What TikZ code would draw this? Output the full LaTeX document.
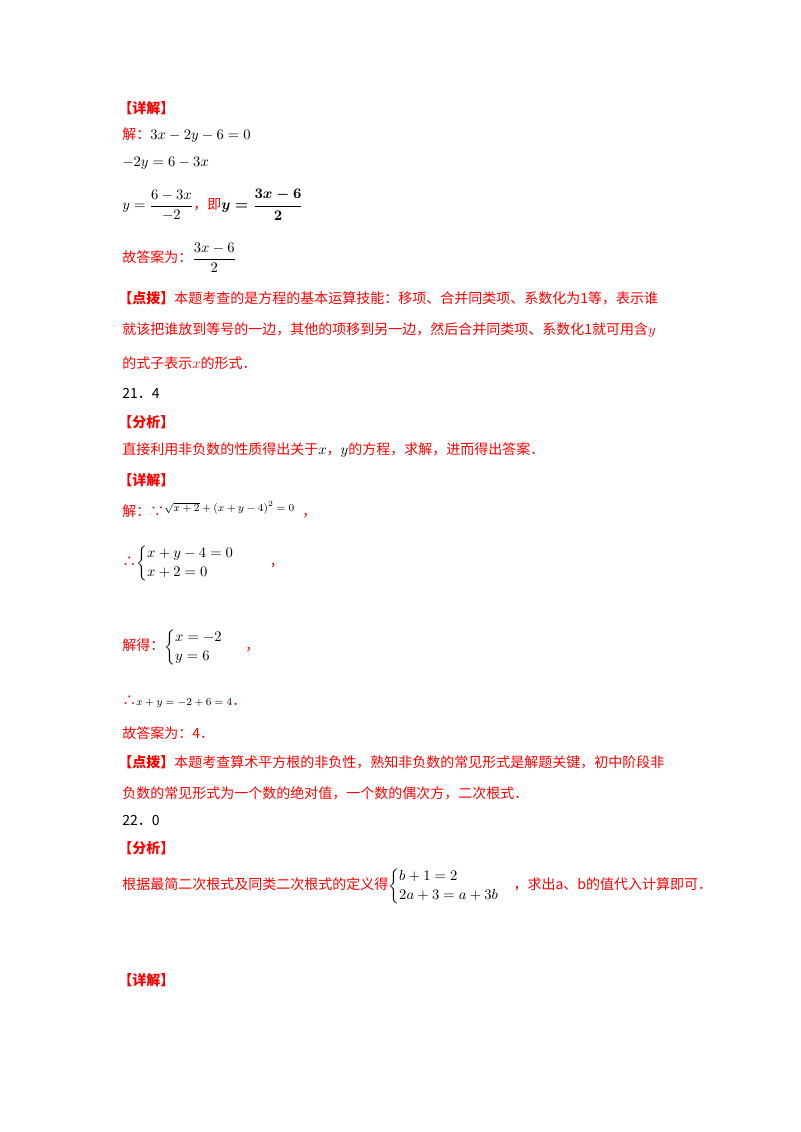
\documentclass[tikz,border=0pt]{standalone}
\usepackage{amsmath}
\usepackage{fontspec}
\setmainfont{Liberation Serif}
\newfontfamily\cjk{Noto Sans CJK SC}
\definecolor{rd}{RGB}{255,0,0}
\tikzset{t/.style={anchor=west,inner sep=0pt,font=\cjk\fontsize{10.5pt}{12pt}\selectfont,text=rd},
 k/.style={anchor=west,inner sep=0pt,font=\fontsize{10.5pt}{12pt}\selectfont,text=black}}
\newcommand{\bk}[1]{\textcolor{black}{#1}}
\begin{document}
\begin{tikzpicture}[x=0.75pt,y=-0.75pt]
\useasboundingbox (0,0) rectangle (800,1132);
\node[t] (h1) at (118,108) {\bfseries 【详解】};
\node[t] (a1) at (122,135) {解：\bk{$3x-2y-6=0$}};
\node[k] (a2) at (122,163) {$-2y=6-3x$};
\node[t] (a3) at (122,205) {\bk{$y=\dfrac{6-3x}{-2}$}，即\bk{$\boldsymbol{y=\dfrac{3x-6}{2}}$}};
\node[t] (a4) at (122,258) {故答案为：\bk{$\dfrac{3x-6}{2}$}};
\node[t] (a5) at (118,298) {\bfseries 【点拨】\mdseries 本题考查的是方程的基本运算技能：移项、合并同类项、系数化为1等，表示谁};
\node[t] (a6) at (122,330) {就该把谁放到等号的一边，其他的项移到另一边，然后合并同类项、系数化1就可用含$y$};
\node[t] (a7) at (122,363) {的式子表示$x$的形式．};
\node[t,text=black] (b0) at (122,393) {21．4};
\node[t] (b1) at (118,422) {\bfseries 【分析】};
\node[t] (b2) at (122,450) {直接利用非负数的性质得出关于\bk{$x$}，\bk{$y$}的方程，求解，进而得出答案．};
\node[t] (b3) at (118,480) {\bfseries 【详解】};
\node[t] (b4) at (122,510) {解：∵\bk{\raisebox{4pt}{\footnotesize$\sqrt{x+2}+\left(x+y-4\right)^2=0$}}\hspace{6pt}，};
\node[t] (b5) at (122,563) {∴\bk{$\begin{cases}x+y-4=0\\ x+2=0\end{cases}$}\hspace{16pt}，};
\node[t] (b6) at (122,647) {解得：\bk{$\begin{cases}x=-2\\ y=6\end{cases}$}\hspace{6pt}，};
\node[t] (b7) at (122,702) {∴\bk{\footnotesize$x+y=-2+6=4$}．};
\node[t] (b8) at (122,733) {故答案为：4．};
\node[t] (b9) at (118,762) {\bfseries 【点拨】\mdseries 本题考查算术平方根的非负性，熟知非负数的常见形式是解题关键，初中阶段非};
\node[t] (b10) at (122,793) {负数的常见形式为一个数的绝对值，一个数的偶次方，二次根式．};
\node[t,text=black] (c0) at (122,820) {22．0};
\node[t] (c1) at (118,848) {\bfseries 【分析】};
\node[t] (c2) at (122,886) {根据最简二次根式及同类二次根式的定义得\bk{$\begin{cases}b+1=2\\ 2a+3=a+3b\end{cases}$}，求出a、b的值代入计算即可．};
\node[t] (c3) at (118,980) {\bfseries 【详解】};
\end{tikzpicture}
\end{document}
